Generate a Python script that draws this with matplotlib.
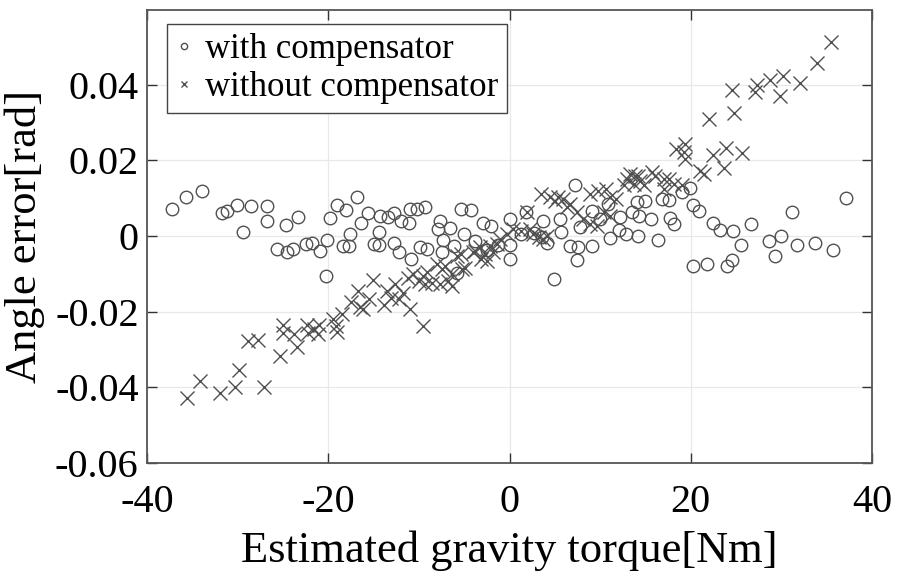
import numpy as np
import matplotlib.pyplot as plt

plt.rcParams['font.family'] = ['Liberation Serif', 'DejaVu Serif']
plt.rcParams['axes.unicode_minus'] = False

# with compensator (torque [Nm], angle error [rad])
with_x = [-37.2, -35.7, -33.9, -31.7, -31.2, -30.1, -29.4, -28.5, -26.8, -26.8,
          -25.7, -24.7, -24.5, -23.9, -23.3, -22.5, -21.8, -20.9, -20.2, -20.1,
          -19.8, -19.0, -18.4, -18.0, -17.7, -17.6, -16.8, -16.4, -15.6, -15.0,
          -14.4, -14.4, -14.3, -13.4, -12.8, -12.8, -12.2, -12.0, -11.1, -11.0,
          -10.9, -10.2, -9.9, -9.1, -9.3, -7.7, -7.9, -6.6, -7.3, -7.5,
          -6.1, -5.4, -4.2, -5.0, -5.8, -3.8, -2.9, -2.0, -2.5, -1.3,
          0.0, 0.0, 0.0, 1.3, 1.8, 2.7, 3.7, 3.6, 4.1, 4.9,
          5.6, 5.7, 7.2, 6.7, 7.6, 7.5, 7.8, 9.1, 9.1, 10.0,
          10.9, 11.1, 12.1, 12.8, 12.2, 13.5, 14.1, 15.0, 14.2, 14.3,
          15.6, 16.4, 16.8, 17.6, 17.7, 18.2, 19.0, 19.9, 20.2, 20.9,
          22.5, 23.2, 24.7, 26.7, 25.5, 24.6, 24.0, 21.8, 20.2, 28.6,
          30.0, 31.2, 29.3, 31.7, 33.7, 35.7, 37.1]
with_y = [0.0072, 0.0103, 0.0120, 0.0060, 0.0066, 0.0081, 0.0012, 0.0079, 0.0079, 0.0039,
          -0.0035, 0.0030, -0.0042, -0.0033, 0.0050, -0.0021, -0.0019, -0.0039, -0.0105, -0.0010,
          0.0047, 0.0083, -0.0026, 0.0070, -0.0026, 0.0005, 0.0103, 0.0034, 0.0060, -0.0021,
          0.0012, -0.0024, 0.0054, 0.0050, 0.0060, -0.0017, -0.0043, 0.0041, 0.0035, 0.0072,
          -0.0061, 0.0072, -0.0030, -0.0033, 0.0078, 0.0041, 0.0019, 0.0021, -0.0010, -0.0041,
          -0.0026, 0.0072, 0.0068, 0.0005, -0.0097, -0.0012, 0.0034, 0.0028, -0.0038, -0.0023,
          0.0045, -0.0023, -0.0060, 0.0005, 0.0065, 0.0008, 0.0041, -0.0003, -0.0018, -0.0114,
          0.0045, 0.0011, 0.0134, -0.0026, -0.0030, -0.0064, 0.0023, -0.0026, 0.0067, 0.0045,
          0.0085, -0.0005, 0.0015, 0.0005, 0.0050, 0.0063, 0.0089, 0.0094, 0.0001, 0.0054,
          0.0045, -0.0010, 0.0099, 0.0096, 0.0047, 0.0032, 0.0116, 0.0127, 0.0081, 0.0066,
          0.0035, 0.0015, 0.0014, 0.0032, -0.0023, -0.0062, -0.0079, -0.0074, -0.0080, -0.0012,
          0.0001, 0.0063, -0.0052, -0.0024, -0.0019, -0.0036, 0.0100]

# without compensator
without_x = [-35.6, -34.1, -32.0, -30.3, -29.8, -27.1, -28.9, -27.7, -25.3, -25.0,
             -25.0, -23.8, -23.4, -22.4, -22.2, -21.6, -21.0, -21.1, -19.5, -19.1,
             -19.0, -18.5, -17.5, -16.7, -16.5, -16.2, -15.5, -15.1, -13.9, -13.5,
             -13.1, -12.6, -12.2, -11.7, -11.2, -11.0, -10.6, -10.0, -9.5, -9.5,
             -9.1, -9.3, -8.5, -7.7, -7.5, -8.0, -7.1, -6.8, -6.4, -6.4,
             -5.8, -5.3, -5.2, -4.9, -4.0, -3.8, -3.3, -3.1, -2.7, -2.5,
             -2.2, -1.8, -1.4, -1.0, -0.3, 0.4, 1.3, 1.9, 2.3, 2.6,
             3.2, 3.7, 4.1, 3.5, 4.5, 5.0, 5.4, 5.9, 6.3, 6.7,
             7.4, 8.1, 8.9, 9.6, 8.9, 9.8, 10.4, 10.7, 11.1, 11.1,
             11.8, 12.6, 13.0, 13.3, 13.7, 13.8, 14.2, 14.4, 14.8, 15.7,
             16.1, 17.0, 17.6, 17.0, 18.1, 19.0, 18.4, 19.4, 19.2, 19.4,
             21.0, 21.5, 23.7, 22.5, 23.9, 25.6, 22.0, 24.6, 24.8, 27.1,
             27.3, 28.7, 29.8, 30.2, 32.0, 33.9, 35.5]
without_y = [-0.0428, -0.0384, -0.0414, -0.0398, -0.0353, -0.0400, -0.0278, -0.0274, -0.0318, -0.0234,
             -0.0256, -0.0258, -0.0293, -0.0236, -0.0256, -0.0245, -0.0234, -0.0260, -0.0220, -0.0238,
             -0.0254, -0.0207, -0.0174, -0.0145, -0.0187, -0.0192, -0.0166, -0.0116, -0.0181, -0.0145,
             -0.0163, -0.0127, -0.0166, -0.0150, -0.0112, -0.0194, -0.0101, -0.0119, -0.0238, -0.0105,
             -0.0096, -0.0127, -0.0125, -0.0127, -0.0088, -0.0074, -0.0079, -0.0119, -0.0132, -0.0101,
             -0.0052, -0.0048, -0.0086, -0.0083, -0.0043, -0.0039, -0.0030, -0.0061, -0.0048, -0.0066,
             -0.0026, -0.0043, -0.0021, -0.0008, 0.0005, 0.0019, 0.0014, 0.0065, 0.0019, 0.0005,
             -0.0003, -0.0008, 0.0001, 0.0112, 0.0103, 0.0094, 0.0103, 0.0098, 0.0076, 0.0085,
             0.0063, 0.0045, 0.0032, 0.0027, 0.0112, 0.0120, 0.0063, 0.0125, 0.0103, 0.0054,
             0.0098, 0.0134, 0.0151, 0.0165, 0.0138, 0.0160, 0.0160, 0.0147, 0.0134, 0.0169,
             0.0160, 0.0151, 0.0151, 0.0125, 0.0138, 0.0134, 0.0231, 0.0244, 0.0222, 0.0203,
             0.0173, 0.0165, 0.0181, 0.0215, 0.0233, 0.0220, 0.0311, 0.0386, 0.0326, 0.0380,
             0.0399, 0.0412, 0.0371, 0.0424, 0.0404, 0.0459, 0.0514]

x_ticks = [-40, -20, 0, 20, 40]
y_ticks = [-0.06, -0.04, -0.02, 0, 0.02, 0.04]
y_tick_labels = ['-0.06', '-0.04', '-0.02', '0', '0.02', '0.04']

fig = plt.figure(figsize=(8.98, 5.74), dpi=100)
ax = fig.add_axes([147 / 898, 1 - 463 / 574, 725 / 898, 453 / 574])

mk = '#505050'
ax.plot(with_x, with_y, 'o', mfc='none', mec=mk, mew=1.0, ms=9, label='with compensator')
ax.plot(without_x, without_y, 'x', color=mk, mew=1.0, ms=10, label='without compensator')

ax.set_xlim(-40, 40)
ax.set_ylim(-0.06, 0.0598)
ax.set_xticks(x_ticks)
ax.set_yticks(y_ticks)
ax.set_yticklabels(y_tick_labels)
ax.tick_params(direction='in', top=True, right=True, length=7, width=1,
               labelsize=29, color='#333333', pad=6)
ax.tick_params(axis='x', pad=15)
ax.grid(True, color='#e8e8e8', lw=0.9)
ax.set_axisbelow(True)
for s in ax.spines.values():
    s.set_color('#555555')
    s.set_linewidth(1.3)

ax.set_xlabel('Estimated gravity torque[Nm]', fontsize=32)
ax.set_ylabel('Angle error[rad]', fontsize=32)
ax.xaxis.set_label_coords(0.5, -0.15)
ax.yaxis.set_label_coords(-0.14, 0.5)

leg = ax.legend(loc='upper left', bbox_to_anchor=(0.0276, 0.969), borderaxespad=0,
                fontsize=25, markerscale=0.5, handlelength=0.5, handletextpad=0.35,
                borderpad=0.25, labelspacing=0.15, fancybox=False, framealpha=1)
leg.get_frame().set_edgecolor('#444444')
leg.get_frame().set_linewidth(1.0)

fig.savefig('out.png', dpi=100)
